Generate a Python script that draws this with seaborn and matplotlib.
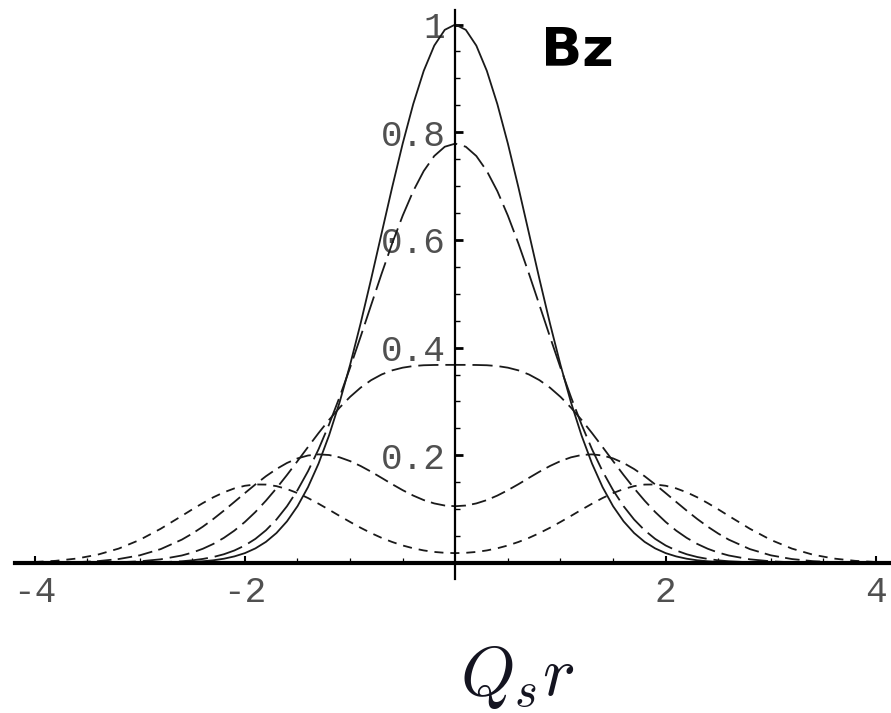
import matplotlib
matplotlib.use("Agg")
import matplotlib.pyplot as plt
from matplotlib.ticker import FixedLocator
import seaborn as sns
import pandas as pd

# Radial profiles of B_z versus Q_s r, for five times (r >= 0; each profile is even in r)
r_pos = [0.0, 0.1, 0.2, 0.3, 0.4, 0.5, 0.6, 0.7, 0.8, 0.9,
         1.0, 1.1, 1.2, 1.3, 1.4, 1.5, 1.6, 1.7, 1.8, 1.9,
         2.0, 2.1, 2.2, 2.3, 2.4, 2.5, 2.6, 2.8, 3.0, 3.2,
         3.4, 3.6, 3.8, 4.0]

bz_t0 = [1.0000, 0.9901, 0.9608, 0.9139, 0.8521, 0.7788, 0.6977, 0.6126, 0.5273, 0.4449,
         0.3679, 0.2982, 0.2369, 0.1845, 0.1409, 0.1054, 0.0773, 0.0556, 0.0392, 0.0271,
         0.0183, 0.0122, 0.0079, 0.0050, 0.0032, 0.0019, 0.0012, 0.0004, 0.0001, 0.0000,
         0.0000, 0.0000, 0.0000, 0.0000]

bz_t05 = [0.7788, 0.7730, 0.7558, 0.7279, 0.6905, 0.6450, 0.5934, 0.5374, 0.4790, 0.4202,
          0.3627, 0.3080, 0.2572, 0.2111, 0.1704, 0.1352, 0.1054, 0.0807, 0.0607, 0.0448,
          0.0325, 0.0232, 0.0162, 0.0111, 0.0075, 0.0049, 0.0032, 0.0013, 0.0005, 0.0002,
          0.0001, 0.0000, 0.0000, 0.0000]

bz_t10 = [0.3679, 0.3679, 0.3677, 0.3672, 0.3657, 0.3627, 0.3577, 0.3501, 0.3395, 0.3256,
          0.3085, 0.2884, 0.2658, 0.2412, 0.2154, 0.1892, 0.1634, 0.1387, 0.1157, 0.0947,
          0.0762, 0.0601, 0.0466, 0.0354, 0.0264, 0.0193, 0.0139, 0.0068, 0.0031, 0.0013,
          0.0005, 0.0002, 0.0001, 0.0000]

bz_t15 = [0.1054, 0.1067, 0.1106, 0.1168, 0.1252, 0.1352, 0.1463, 0.1580, 0.1695, 0.1801,
          0.1892, 0.1962, 0.2005, 0.2017, 0.1996, 0.1942, 0.1857, 0.1745, 0.1611, 0.1459,
          0.1298, 0.1134, 0.0972, 0.0817, 0.0674, 0.0546, 0.0433, 0.0258, 0.0142, 0.0073,
          0.0034, 0.0015, 0.0006, 0.0002]

bz_t20 = [0.0183, 0.0189, 0.0205, 0.0233, 0.0273, 0.0325, 0.0390, 0.0466, 0.0555, 0.0654,
          0.0762, 0.0874, 0.0989, 0.1101, 0.1206, 0.1298, 0.1373, 0.1427, 0.1456, 0.1458,
          0.1434, 0.1385, 0.1312, 0.1220, 0.1112, 0.0996, 0.0874, 0.0636, 0.0428, 0.0267,
          0.0154, 0.0082, 0.0040, 0.0018]

series = {"t0": bz_t0, "t05": bz_t05, "t10": bz_t10, "t15": bz_t15, "t20": bz_t20}

x_ticks = [-4, -2, 2, 4]
x_tick_labels = ["-4", "-2", "2", "4"]
x_minor_ticks = [-3.5, -3, -2.5, -1.5, -1, -0.5, 0.5, 1, 1.5, 2.5, 3, 3.5]
y_ticks = [0.2, 0.4, 0.6, 0.8, 1.0]
y_tick_labels = ["0.2", "0.4", "0.6", "0.8", "1"]
y_minor_ticks = [0.05, 0.1, 0.15, 0.25, 0.3, 0.35, 0.45, 0.5, 0.55,
                 0.65, 0.7, 0.75, 0.85, 0.9, 0.95]

# long-form table over the full range -4..4 (mirror the r >= 0 profile)
rows = []
for name, vals in series.items():
    xs = [-r for r in reversed(r_pos[1:])] + r_pos
    ys = list(reversed(vals[1:])) + vals
    rows += [{"x": a, "Bz": b, "curve": name} for a, b in zip(xs, ys)]
df = pd.DataFrame(rows)

sns.set_theme(style="white")
plt.rcParams["lines.scale_dashes"] = False
plt.rcParams["mathtext.fontset"] = "cm"

fig = plt.figure(figsize=(8.91, 7.13), dpi=100)
ax = fig.add_axes([0, 0, 1, 1])

dash_styles = {"t0": "", "t05": (21, 5), "t10": (14.5, 5), "t15": (10.5, 4.5), "t20": (6.5, 5)}
sns.lineplot(data=df, x="x", y="Bz", style="curve", dashes=dash_styles,
             color="#1a1a1a", linewidth=1.3, legend=False, ax=ax, sort=False,
             estimator=None)

ax.set_xlim(-4.328, 4.142)
ax.set_ylim(-0.2786, 1.0455)
ax.set_xlabel("")
ax.set_ylabel("")
ax.set_facecolor("white")
fig.patch.set_facecolor("white")

# Axes crossing at the origin
for side in ("top", "right"):
    ax.spines[side].set_visible(False)
ax.spines["bottom"].set_position(("data", 0))
ax.spines["left"].set_position(("data", 0))
ax.spines["bottom"].set_bounds(-4.185, 4.142)
ax.spines["left"].set_bounds(-0.03, 1.027)
ax.spines["bottom"].set_linewidth(3.0)
ax.spines["left"].set_linewidth(1.6)
for side in ("bottom", "left"):
    ax.spines[side].set_color("black")
    ax.spines[side].set_zorder(5)

ax.xaxis.set_major_locator(FixedLocator(x_ticks))
ax.set_xticklabels(x_tick_labels)
ax.xaxis.set_minor_locator(FixedLocator(x_minor_ticks))
ax.yaxis.set_major_locator(FixedLocator(y_ticks))
ax.set_yticklabels(y_tick_labels)
ax.yaxis.set_minor_locator(FixedLocator(y_minor_ticks))

for lab in ax.get_xticklabels() + ax.get_yticklabels():
    lab.set_fontfamily("Liberation Mono")
    lab.set_fontsize(26)
    lab.set_color("#505050")

ax.tick_params(axis="x", which="major", direction="in", length=5, width=1.5,
               color="black", pad=9, bottom=True)
ax.tick_params(axis="x", which="minor", direction="in", length=3.5, width=0.9,
               color="black", bottom=True)
ax.tick_params(axis="y", which="major", direction="in", length=5.5, width=2.0,
               color="black", pad=7, left=True)
ax.tick_params(axis="y", which="minor", direction="in", length=3.6, width=1.0,
               color="black", left=True)

# axis title and panel tag
fig.text(517 / 891, 1 - 695 / 713, r"$Q_s r$", ha="center", va="baseline",
         fontsize=50, color="#141420")
fig.text(541 / 891, 1 - 66 / 713, "Bz", ha="left", va="baseline",
         fontsize=39, fontweight="bold", family="DejaVu Sans", color="black")

fig.savefig("out.png", dpi=100, facecolor="white")
